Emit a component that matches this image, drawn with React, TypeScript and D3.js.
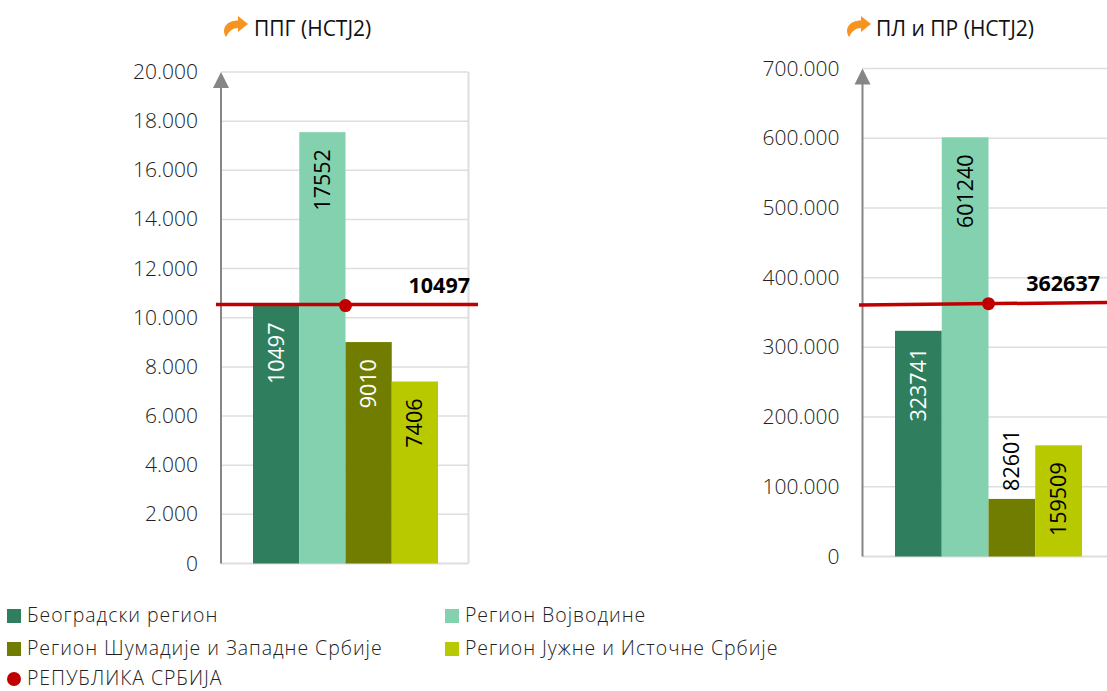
import React from 'react';
import * as d3 from 'd3';

const regions = [
  'Београдски регион',
  'Регион Војводине',
  'Регион Шумадије и Западне Србије',
  'Регион Јужне и Источне Србије',
];
const nationalLabel = 'РЕПУБЛИКА СРБИЈА';
const colors = ['#2f7f5f', '#84d1af', '#717d00', '#b9c900'];
const labelColors = ['#ffffff', '#000000', '#ffffff', '#000000'];

const ppgValues = [10497, 17552, 9010, 7406];
const ppgTicks = [0, 2000, 4000, 6000, 8000, 10000, 12000, 14000, 16000, 18000, 20000];
const ppgNational = 10497;
const ppgLineEnds = [10540, 10540];

const plValues = [323741, 601240, 82601, 159509];
const plTicks = [0, 100000, 200000, 300000, 400000, 500000, 600000, 700000];
const plNational = 362637;
const plLineEnds = [360800, 364400];

const FONT = '"Open Sans", sans-serif';
const RED = '#c00000';
const GRID = '#dedede';
const AXIS = '#868686';

const fmt = d3.formatLocale({ decimal: ',', thousands: '.', grouping: [3], currency: ['', ''] }).format(',');

// the little bent arrow in front of each title
const TurnArrow = ({ x, y }: { x: number; y: number }) => (
  <path
    transform={`translate(${x},${y})`}
    d="M3 21 C-2 13 3 4.5 15 4.5 L15 0 L25 8 L15 16 L15 12 C10 12 6 15 3 21 Z"
    fill="#f79421"
  />
);

type PanelProps = {
  title: string;
  titleX: number;
  arrowX: number;
  values: number[];
  ticks: number[];
  national: number;
  lineEnds: number[];
  axisX: number;
  plotRight: number;
  barLeft: number;
  barRight: number;
  y0: number;
  yTop: number;
  lineLeft: number;
  lineRight: number;
  calloutX: number;
  rightBorder: boolean;
  outsideIdx: number;
};

const Panel = (p: PanelProps) => {
  const y = d3.scaleLinear().domain([0, p.ticks[p.ticks.length - 1]]).range([p.y0, p.yTop]);
  const x = d3.scaleBand<string>().domain(regions).range([p.barLeft, p.barRight]);
  const line = d3.line<number>()
    .x((_, i) => (i === 0 ? p.lineLeft : p.lineRight))
    .y((d) => y(d));
  const dotX = x(regions[1])! + x.bandwidth();

  return (
    <g fontFamily={FONT}>
      <TurnArrow x={p.arrowX} y={16} />
      <text x={p.titleX} y={36} fontSize={21} fill="#111">{p.title}</text>

      {p.ticks.map((t) => (
        <g key={t}>
          <line x1={p.axisX} x2={p.plotRight} y1={y(t)} y2={y(t)} stroke={GRID} strokeWidth={t === 0 ? 2 : 1.5} />
          <text x={p.axisX - 23} y={y(t) + 7} textAnchor="end" fontSize={21} fontWeight={300} fill="#222">{fmt(t)}</text>
        </g>
      ))}
      {p.rightBorder && (
        <line x1={p.plotRight} x2={p.plotRight} y1={p.yTop} y2={p.y0} stroke={GRID} strokeWidth={2} />
      )}

      {p.values.map((v, i) => (
        <rect key={regions[i]} x={x(regions[i])} y={y(v)} width={x.bandwidth()} height={p.y0 - y(v)} fill={colors[i]} />
      ))}

      <line x1={p.axisX} x2={p.axisX} y1={p.y0} y2={p.yTop + 14} stroke={AXIS} strokeWidth={2} />
      <path d={`M${p.axisX} ${p.yTop} L${p.axisX + 8} ${p.yTop + 16} L${p.axisX - 8} ${p.yTop + 16} Z`} fill={AXIS} />

      {p.values.map((v, i) => {
        const cx = x(regions[i])! + x.bandwidth() / 2;
        const outside = i === p.outsideIdx;
        const anchorY = outside ? y(v) - 8 : y(v) + 17;
        return (
          <text
            key={regions[i]}
            transform={`translate(${cx + 7.5},${anchorY}) rotate(-90)`}
            textAnchor={outside ? 'start' : 'end'}
            fontSize={21.5}
            fill={outside ? '#000' : labelColors[i]}
          >
            {v}
          </text>
        );
      })}

      <path d={line(p.lineEnds)!} fill="none" stroke={RED} strokeWidth={3.5} />
      <circle cx={dotX} cy={y(p.national)} r={6.5} fill={RED} />
      <text x={p.calloutX} y={y(p.national) - 13} textAnchor="end" fontSize={21.5} fontWeight={700} fill="#000">
        {p.national}
      </text>
    </g>
  );
};

const legendCols = [7, 445];
const legendRows = [622, 655, 685];

const Legend = () => (
  <g fontFamily={FONT} fontSize={19.5} fontWeight={300} fill="#222" letterSpacing={0.95}>
    {regions.map((r, i) => {
      const lx = legendCols[i % 2];
      const ly = legendRows[Math.floor(i / 2)];
      return (
        <g key={r}>
          <rect x={lx} y={ly - 13} width={14} height={14} fill={colors[i]} />
          <text x={lx + 20} y={ly}>{r}</text>
        </g>
      );
    })}
    <circle cx={legendCols[0] + 7} cy={legendRows[2] - 6} r={7} fill={RED} />
    <text x={legendCols[0] + 20} y={legendRows[2]}>{nationalLabel}</text>
  </g>
);

export default function App() {
  return (
    <svg width={1107} height={691} style={{ position: 'absolute', left: 0, top: 0, background: '#fff' }}>
      <Panel
        title="ППГ (НСТЈ2)"
        titleX={254}
        arrowX={223}
        values={ppgValues}
        ticks={ppgTicks}
        national={ppgNational}
        lineEnds={ppgLineEnds}
        axisX={221}
        plotRight={468.5}
        barLeft={253}
        barRight={438}
        y0={563.5}
        yTop={72}
        lineLeft={216}
        lineRight={478}
        calloutX={470}
        rightBorder={true}
        outsideIdx={-1}
      />
      <Panel
        title="ПЛ и ПР (НСТЈ2)"
        titleX={876}
        arrowX={846}
        values={plValues}
        ticks={plTicks}
        national={plNational}
        lineEnds={plLineEnds}
        axisX={862.5}
        plotRight={1107}
        barLeft={895}
        barRight={1082}
        y0={556.5}
        yTop={68.5}
        lineLeft={859}
        lineRight={1107}
        calloutX={1100}
        rightBorder={false}
        outsideIdx={2}
      />
      <Legend />
    </svg>
  );
}
